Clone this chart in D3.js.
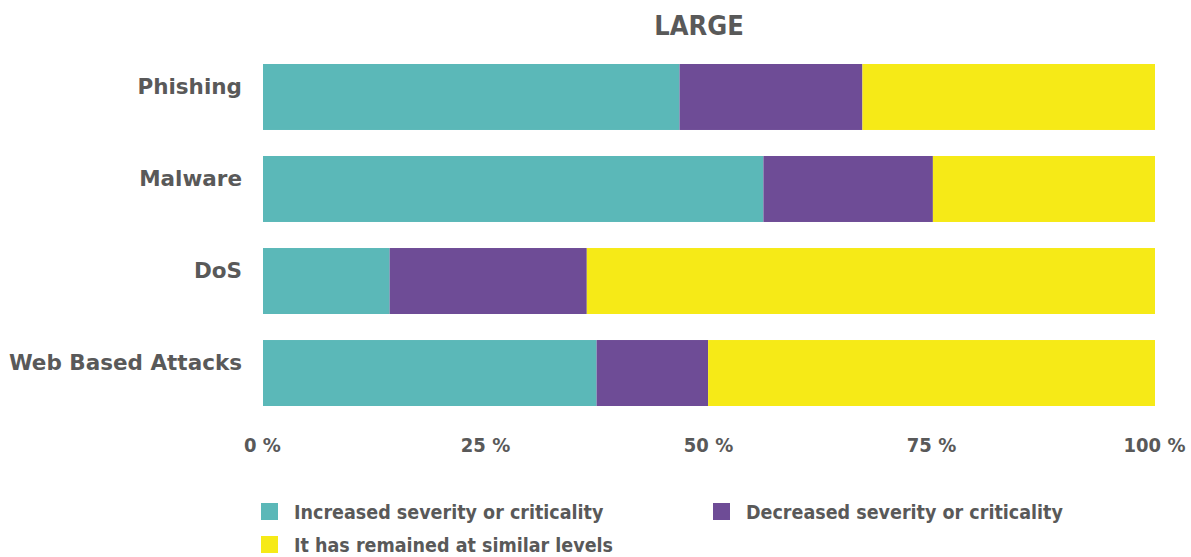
<!DOCTYPE html>
<html>
<head>
<meta charset="utf-8">
<script src="https://cdn.jsdelivr.net/npm/d3@7"></script>
<style>
  html, body { margin: 0; padding: 0; background: #fff; }
  svg { display: block; font-family: "DejaVu Sans", sans-serif; }
  .cond { font-family: "DejaVu Sans Condensed", "DejaVu Sans", sans-serif; font-stretch: condensed; }
</style>
</head>
<body>
<svg id="chart" width="1191" height="557"></svg>
<script>
// Attack categories and the share of respondents in each answer (percent)
const categories = ["Phishing", "Malware", "DoS", "Web Based Attacks"];
const increased = [46.7, 56.1, 14.2, 37.4];
const decreased = [20.5, 19.0, 22.1, 12.5];
const similar   = [32.8, 24.9, 63.7, 50.1];
const seriesNames = [
  "Increased severity or criticality",
  "Decreased severity or criticality",
  "It has remained at similar levels"
];
const seriesColors = ["#5bb8b8", "#6e4c96", "#f6ea17"];
const tickValues = [0, 25, 50, 75, 100];
const title = "LARGE";

const rows = categories.map((c, i) => ({
  category: c,
  s0: increased[i],
  s1: decreased[i],
  s2: similar[i]
}));
const layers = d3.stack().keys(["s0", "s1", "s2"])(rows);

const svg = d3.select("#chart");
const textColor = "#595959";

const x = d3.scaleLinear().domain([0, 100]).range([263, 1155]);
const y = d3.scaleBand().domain(categories).range([64, 406]).paddingInner(0.283).paddingOuter(0);

// Title
svg.append("text")
  .attr("class", "cond")
  .attr("x", 699).attr("y", 35)
  .attr("text-anchor", "middle")
  .attr("fill", textColor)
  .style("font-size", "27px").style("font-weight", 700)
  .text(title);

// Stacked bars
svg.append("g").selectAll("g")
  .data(layers)
  .join("g")
  .attr("fill", (d, i) => seriesColors[i])
  .selectAll("rect")
  .data(d => d)
  .join("rect")
  .attr("x", d => x(d[0]))
  .attr("width", d => x(d[1]) - x(d[0]))
  .attr("y", d => y(d.data.category))
  .attr("height", y.bandwidth());

// Category axis (labels sit a little above the bar centres)
const yAxis = svg.append("g")
  .attr("transform", "translate(263,-10)")
  .call(d3.axisLeft(y).tickSize(0).tickPadding(21));
yAxis.select(".domain").remove();
yAxis.selectAll("text")
  .attr("fill", textColor)
  .style("font-family", "'DejaVu Sans', sans-serif")
  .style("font-size", "21.5px").style("font-weight", 700);

// Percentage axis
const xAxis = svg.append("g")
  .attr("transform", "translate(-1,438)")
  .call(d3.axisBottom(x).tickValues(tickValues).tickSize(0).tickPadding(0)
    .tickFormat(d => d + " %"));
xAxis.select(".domain").remove();
xAxis.selectAll("text")
  .attr("class", "cond")
  .attr("fill", textColor)
  .style("font-size", "20px").style("font-weight", 700);

// Legend
const legendPos = [[261, 503], [713, 503], [261, 536]];
const legend = svg.append("g").selectAll("g")
  .data(seriesNames)
  .join("g")
  .attr("transform", (d, i) => `translate(${legendPos[i][0]},${legendPos[i][1]})`);
legend.append("rect")
  .attr("width", 17).attr("height", 17)
  .attr("fill", (d, i) => seriesColors[i]);
legend.append("text")
  .attr("class", "cond")
  .attr("x", 33).attr("y", 9)
  .attr("dominant-baseline", "central")
  .attr("fill", textColor)
  .style("font-size", "19.5px").style("font-weight", 700)
  .text(d => d);
</script>
</body>
</html>
